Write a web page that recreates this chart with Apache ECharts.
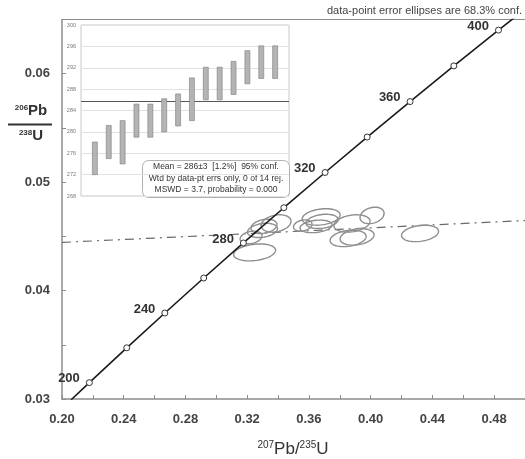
<!DOCTYPE html>
<html>
<head>
<meta charset="utf-8">
<script src="https://cdn.jsdelivr.net/npm/echarts@6/dist/echarts.min.js"></script>
<style>
html,body{margin:0;padding:0;background:#fff;}
#c{width:525px;height:459px;}
</style>
</head>
<body>
<div id="c"></div>
<script>
// Concordia points (age in Ma, 207Pb/235U, 206Pb/238U)
const concAges = [190, 200, 220, 240, 260, 280, 300, 320, 340, 360, 380, 400, 420];
const concX = [0.20577, 0.21771, 0.24193, 0.26664, 0.29183, 0.31753, 0.34374, 0.37047, 0.39773, 0.42554, 0.45389, 0.48282, 0.51231];
const concY = [0.02991, 0.03151, 0.03472, 0.03793, 0.04116, 0.04439, 0.04764, 0.05089, 0.05416, 0.05743, 0.06072, 0.06402, 0.06732];

// Data-point error ellipses (centre, half-extent x, half-extent y, correlation)
const ellX  = [0.3248, 0.3225, 0.3299, 0.3387, 0.3309, 0.3679, 0.3685, 0.3646, 0.3879, 0.4009, 0.3854, 0.3912, 0.4320, 0.3560];
const ellY  = [0.04352, 0.04490, 0.04555, 0.04619, 0.04592, 0.04679, 0.04638, 0.04592, 0.04619, 0.04693, 0.04481, 0.04495, 0.04527, 0.04600];
const ellSX = [0.0136, 0.0071, 0.0097, 0.0097, 0.0084, 0.0123, 0.0104, 0.0104, 0.0117, 0.0078, 0.0117, 0.0110, 0.0120, 0.0060];
const ellSY = [0.00078, 0.00058, 0.00066, 0.00080, 0.00066, 0.00076, 0.00066, 0.00058, 0.00080, 0.00076, 0.00076, 0.00076, 0.00076, 0.00052];
const ellRho = [0.25, 0.25, 0.25, 0.25, 0.25, 0.25, 0.25, 0.25, 0.25, 0.25, 0.25, 0.25, 0.25, 0.25];

// Reference (dash-dot) line
const refX = [0.20, 0.50];
const refY = [0.04444, 0.04646];

// Inset: weighted-mean 206Pb/238U ages (Ma), bar bottom and top
const barLo = [272.0, 275.0, 274.0, 279.0, 279.0, 280.0, 281.1, 282.1, 286.0, 286.0, 287.0, 289.0, 290.0, 290.0];
const barHi = [278.1, 281.2, 282.1, 285.2, 285.2, 286.2, 287.1, 290.1, 292.1, 292.1, 293.2, 295.2, 296.1, 296.1];
const meanAge = 285.7;

// Axis ticks
const xMin = 0.20, xMax = 0.50, xStep = 0.04;
const yMin = 0.03, yMax = 0.065, yStep = 0.01;
const insetMin = 268, insetMax = 300, insetStep = 4;

const FONT = '"Liberation Sans", Arial, sans-serif';
const chart = echarts.init(document.getElementById('c'), null, {renderer: 'canvas'});

const concData = concAges.map((a, i) => {
  const inside = a >= 200 && a <= 400;
  return {
    value: [concX[i], concY[i]],
    symbol: inside ? 'circle' : 'none',
    label: {show: inside && a % 40 === 0, formatter: String(a)}
  };
});
const ellData = ellX.map((x, i) => [x, ellY[i], ellSX[i], ellSY[i], ellRho[i]]);
const barData = barLo.map((lo, i) => [i + 1, lo, barHi[i]]);

const option = {
  animation: false,
  backgroundColor: '#fff',
  textStyle: {fontFamily: FONT},
  grid: [
    {left: 62, right: 0, top: 19.5, bottom: 60, show: false, containLabel: false},
    {left: 81, right: 236, top: 25, bottom: 263, show: true, borderColor: '#c8c8c8', borderWidth: 1, backgroundColor: '#fff', containLabel: false}
  ],
  xAxis: [
    {
      type: 'value', gridIndex: 0, min: xMin, max: xMax, interval: xStep,
      axisLine: {show: true, onZero: false, lineStyle: {color: '#8c8c8c', width: 1.5}},
      axisTick: {show: true, inside: true, length: 4, lineStyle: {color: '#8c8c8c'}},
      minorTick: {show: true, splitNumber: 2, length: 4, lineStyle: {color: '#8c8c8c'}},
      splitLine: {show: false},
      axisLabel: {show: true, showMaxLabel: false, margin: 14, fontSize: 13, fontWeight: 'bold', color: '#444', fontFamily: FONT,
        formatter: v => v.toFixed(2)}
    },
    {type: 'value', gridIndex: 1, min: 0, max: 15, show: false}
  ],
  yAxis: [
    {
      type: 'value', gridIndex: 0, min: yMin, max: yMax, interval: yStep,
      axisLine: {show: true, onZero: false, lineStyle: {color: '#8c8c8c', width: 1.5}},
      axisTick: {show: true, inside: true, length: 4, lineStyle: {color: '#8c8c8c'}},
      minorTick: {show: true, splitNumber: 2, length: 4, lineStyle: {color: '#8c8c8c'}},
      splitLine: {show: false},
      axisLabel: {show: true, showMaxLabel: false, margin: 12, fontSize: 13, fontWeight: 'bold', color: '#444', fontFamily: FONT,
        formatter: v => v.toFixed(2)}
    },
    {
      type: 'value', gridIndex: 1, min: insetMin, max: insetMax, interval: insetStep,
      axisLine: {show: false}, axisTick: {show: false},
      splitLine: {show: true, lineStyle: {color: '#e2e2e2', width: 1}},
      axisLabel: {show: true, fontSize: 5.5, color: '#777', margin: 5, fontFamily: FONT}
    }
  ],
  series: [
    {
      type: 'line', xAxisIndex: 0, yAxisIndex: 0, data: refX.map((x, i) => [x, refY[i]]),
      symbol: 'none', lineStyle: {color: '#6a6a6a', width: 1.2, type: [9, 5, 2, 5]}, z: 2, silent: true
    },
    {
      type: 'custom', xAxisIndex: 0, yAxisIndex: 0, data: ellData, z: 3, silent: true,
      encode: {x: 0, y: 1},
      renderItem: function (params, api) {
        const cx = api.value(0), cy = api.value(1), sx = api.value(2), sy = api.value(3), r = api.value(4);
        const q = Math.sqrt(1 - r * r);
        const pts = [];
        for (let k = 0; k < 60; k++) {
          const t = 2 * Math.PI * k / 60;
          pts.push(api.coord([cx + sx * Math.cos(t), cy + sy * (r * Math.cos(t) + q * Math.sin(t))]));
        }
        return {type: 'polygon', shape: {points: pts}, style: {fill: 'none', stroke: '#8f8f8f', lineWidth: 1.4}};
      }
    },
    {
      type: 'line', xAxisIndex: 0, yAxisIndex: 0, data: concData, smooth: false,
      showAllSymbol: true, symbolSize: 6, z: 4, silent: true,
      lineStyle: {color: '#1a1a1a', width: 1.6},
      itemStyle: {color: '#fff', borderColor: '#333', borderWidth: 1},
      label: {position: 'left', distance: 6, offset: [0, -4], fontSize: 13, fontWeight: 'bold', color: '#333', fontFamily: FONT}
    },
    {
      type: 'custom', xAxisIndex: 1, yAxisIndex: 1, data: barData, z: 5, silent: true,
      encode: {x: 0, y: [1, 2]},
      renderItem: function (params, api) {
        const top = api.coord([api.value(0), api.value(2)]);
        const bot = api.coord([api.value(0), api.value(1)]);
        return {type: 'rect', shape: {x: top[0] - 2.5, y: top[1], width: 5, height: bot[1] - top[1]},
          style: {fill: '#b4b4b4', stroke: '#7a7a7a', lineWidth: 0.6}};
      },
      markLine: {
        silent: true, symbol: 'none', label: {show: false},
        lineStyle: {color: '#555', width: 1.1, type: 'solid'},
        data: [{yAxis: meanAge}]
      }
    }
  ],
  graphic: [
    {type: 'line', z: 1, shape: {x1: 62, y1: 19.5, x2: 525, y2: 19.5}, style: {stroke: '#8c8c8c', lineWidth: 1.2}},
    {
      type: 'text', right: 3, top: 5, z: 20,
      style: {text: 'data-point error ellipses are 68.3% conf.', fontSize: 11, fill: '#444', fontFamily: FONT}
    },
    {
      type: 'group', left: 142, top: 160, z: 20,
      children: [
        {type: 'rect', shape: {x: 0, y: 0, width: 147, height: 37, r: 6}, style: {fill: '#fff', stroke: '#b0b0b0', lineWidth: 1}},
        {type: 'text', x: 73.5, y: 6.5, style: {text: 'Mean = 286±3  [1.2%]  95% conf.', fontSize: 8.5, fill: '#333', align: 'center', verticalAlign: 'middle', fontFamily: FONT}},
        {type: 'text', x: 73.5, y: 18.5, style: {text: 'Wtd by data-pt errs only, 0 of 14 rej.', fontSize: 8.5, fill: '#333', align: 'center', verticalAlign: 'middle', fontFamily: FONT}},
        {type: 'text', x: 73.5, y: 29.5, style: {text: 'MSWD = 3.7, probability = 0.000', fontSize: 8.5, fill: '#333', align: 'center', verticalAlign: 'middle', fontFamily: FONT}}
      ]
    },
    {
      type: 'text', x: 31, y: 111, z: 20,
      style: {
        text: '{s|206}{b|Pb}', align: 'center', verticalAlign: 'middle', fontFamily: FONT,
        rich: {
          s: {fontSize: 8, fontWeight: 'bold', fill: '#333', verticalAlign: 'top', fontFamily: FONT},
          b: {fontSize: 15, fontWeight: 'bold', fill: '#333', fontFamily: FONT}
        }
      }
    },
    {type: 'line', z: 20, shape: {x1: 8, y1: 124.5, x2: 52, y2: 124.5}, style: {stroke: '#333', lineWidth: 2}},
    {
      type: 'text', x: 31, y: 136, z: 20,
      style: {
        text: '{s|238}{b|U}', align: 'center', verticalAlign: 'middle', fontFamily: FONT,
        rich: {
          s: {fontSize: 8, fontWeight: 'bold', fill: '#333', verticalAlign: 'top', fontFamily: FONT},
          b: {fontSize: 15, fontWeight: 'bold', fill: '#333', fontFamily: FONT}
        }
      }
    },
    {
      type: 'text', x: 293, y: 449, z: 20,
      style: {
        text: '{s|207}{m|Pb/}{s|235}{m|U}', align: 'center', verticalAlign: 'middle', fontFamily: FONT,
        rich: {
          s: {fontSize: 10, fill: '#333', verticalAlign: 'top', fontFamily: FONT},
          m: {fontSize: 17, fill: '#333', fontFamily: FONT}
        }
      }
    }
  ]
};
chart.setOption(option);
</script>
</body>
</html>
